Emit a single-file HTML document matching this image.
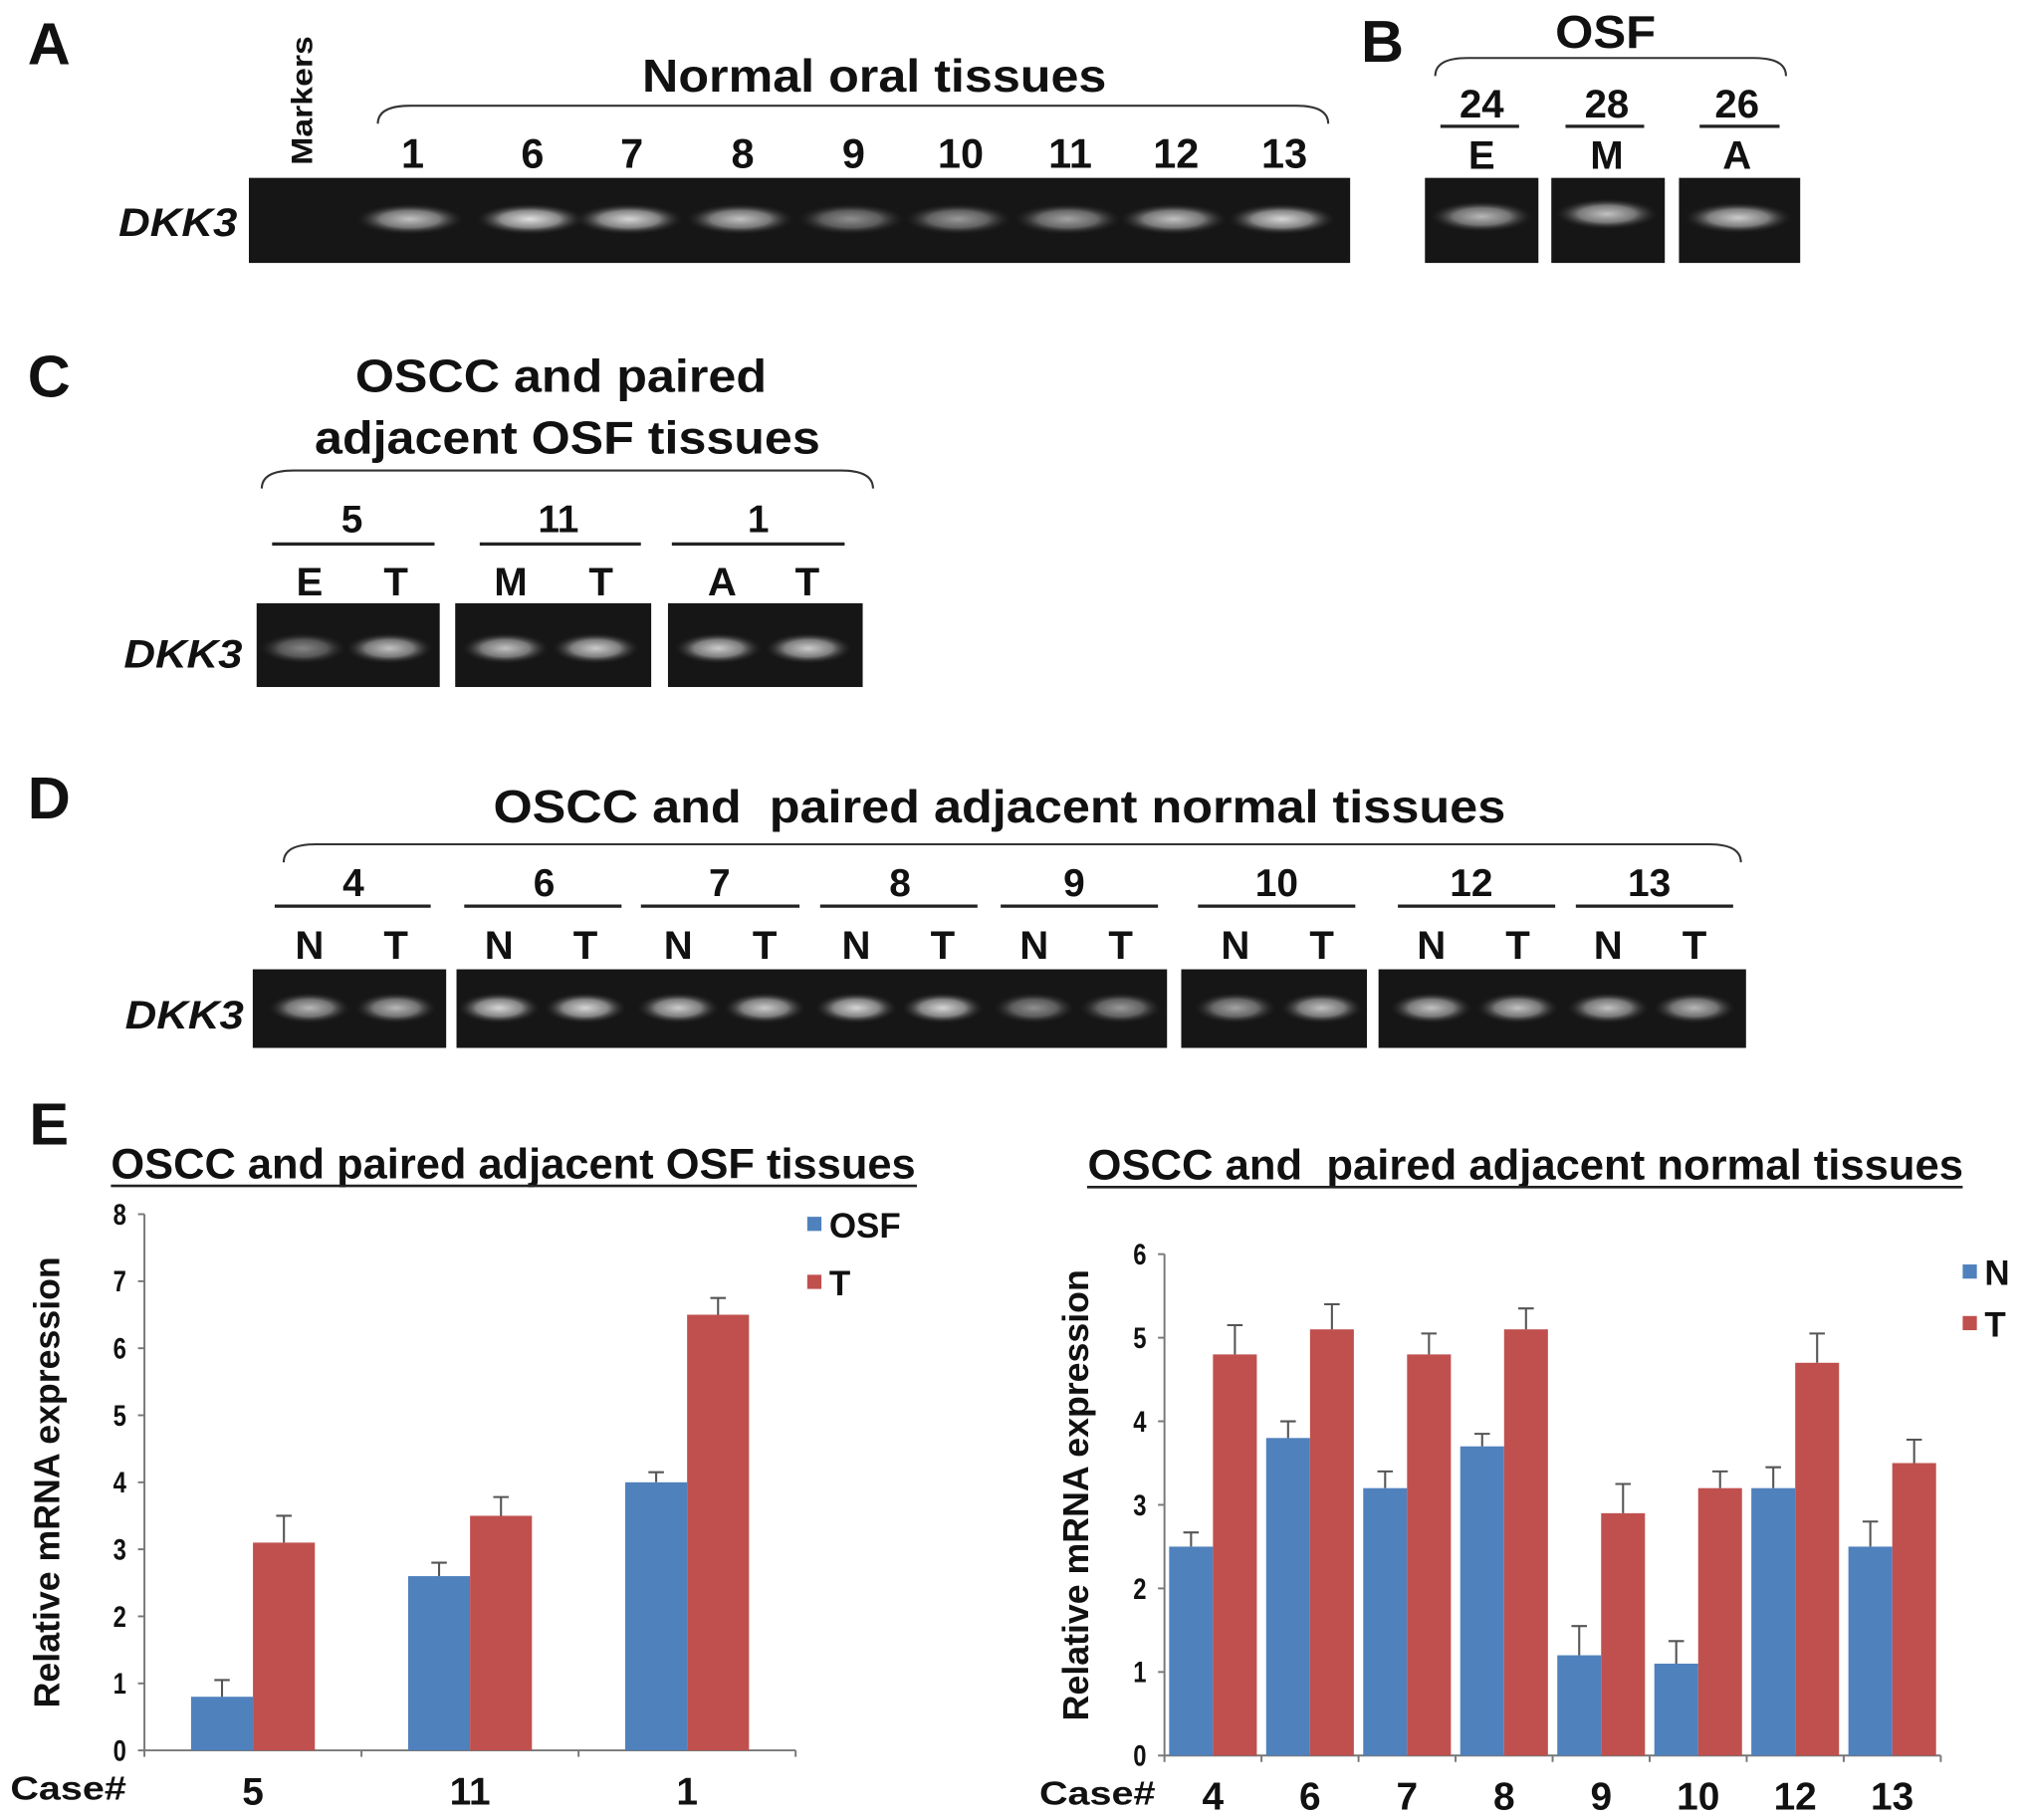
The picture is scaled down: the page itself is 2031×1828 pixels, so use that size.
<!DOCTYPE html>
<html><head><meta charset="utf-8"><style>
html,body{margin:0;padding:0;background:#fff;}
svg{display:block;}
text{font-family:"Liberation Sans",Arial,sans-serif;font-weight:bold;fill:#111;white-space:pre;}
</style></head><body>
<svg id="fig" width="2031" height="1828" viewBox="0 0 1568 1412" preserveAspectRatio="none" xmlns="http://www.w3.org/2000/svg">
<defs>
<radialGradient id="band" cx="50%" cy="50%" r="50%"><stop offset="0" stop-color="#e0e0e0"/><stop offset="0.55" stop-color="#8a8a8a"/><stop offset="1" stop-color="#222" stop-opacity="0"/></radialGradient>
</defs>
<g id="static"></g>
<g id="chartL"></g>
<g id="chartR"></g>
</svg>
<script>
// ---- chart data ----
const leftCategories = ["5","11","1"];
const leftOSF = [0.8, 2.6, 4.0];
const leftT = [3.1, 3.5, 6.5];
const leftOSFErr = [0.25, 0.2, 0.15];
const leftTErr = [0.4, 0.28, 0.25];
const leftTicks = [0,1,2,3,4,5,6,7,8];
const rightCategories = ["4","6","7","8","9","10","12","13"];
const rightN = [2.5, 3.8, 3.2, 3.7, 1.2, 1.1, 3.2, 2.5];
const rightT = [4.8, 5.1, 4.8, 5.1, 2.9, 3.2, 4.7, 3.5];
const rightNErr = [0.17, 0.2, 0.2, 0.15, 0.35, 0.27, 0.25, 0.3];
const rightTErr = [0.35, 0.3, 0.25, 0.25, 0.35, 0.2, 0.35, 0.28];
const rightTicks = [0,1,2,3,4,5,6];

const NS = "http://www.w3.org/2000/svg";
function mk(parent, tag, attrs, txt){
  const e = document.createElementNS(NS, tag);
  for (const k in attrs) e.setAttribute(k, attrs[k]);
  if (txt !== undefined) e.textContent = txt;
  parent.appendChild(e);
  return e;
}
const S = document.getElementById('static');

function label(x,y,t,size,name,extra,len){
  const a = Object.assign({x:x,y:y,'font-size':size,'text-anchor':'middle'},extra||{});
  if (len) { a.textLength = len; a.lengthAdjust = 'spacingAndGlyphs'; }
  const e = mk(S,'text',a,t);
  
  
  return e;
}
function line(x1,y1,x2,y2,w,name){
  const e = mk(S,'line',{x1:x1,y1:y1,x2:x2,y2:y2,stroke:'#222','stroke-width':w||2});
  
  
}
function brace(x1,x2,y,name){
  const e = mk(S,'path',{d:`M${x1},${y+14} Q${x1},${y} ${x1+25},${y} L${x2-25},${y} Q${x2},${y} ${x2},${y+14}`,fill:'none',stroke:'#333','stroke-width':1.6});
  
  
}
function gel(x1,x2,y1,y2,name){
  const e = mk(S,'rect',{x:x1,y:y1,width:x2-x1,height:y2-y1,fill:'#161616'});
  
  
}
function bandAt(cx,cy,w,op){
  const e = mk(S,'ellipse',{cx:cx,cy:cy,rx:w/2,ry:12,fill:'url(#band)',opacity:op});
  
  
}

// Panel letters
[["A",38,50],["B",1072,48],["C",38,308],["D",38,635],["E",38,888]].forEach(p=>label(p[1],p[2],p[0],46,'panel-label-'+p[0].toLowerCase()));

// Panel A
label(678,71,"Normal oral tissues",36,'panel-a-title',null,360);
brace(293,1030,82,'panel-a-brace');
const aLanes=[[320,"1"],[413,"6"],[490,"7"],[576,"8"],[662,"9"],[745,"10"],[830,"11"],[912,"12"],[996,"13"]];
aLanes.forEach(l=>label(l[0],130,l[1],32,'lane-number'));
label(242,78,"Markers",23,'markers-label',{transform:'rotate(-90 242 78)','font-weight':'normal'},100);
gel(193,1047,138,204,'panel-a-gel');
const aOp=[0.85,1,0.95,0.85,0.6,0.65,0.7,0.85,0.95];
aLanes.forEach((l,i)=>bandAt(l[0]-2,170,84,aOp[i]));
label(138,183,"DKK3",31,'gene-label-a',{'font-style':'italic'},92);

// Panel B
label(1245,37,"OSF",36,'panel-b-title',null,78);
brace(1113,1385,45,'panel-b-brace');
[[1149,"24","E",1117,1178],[1246,"28","M",1214,1275],[1347,"26","A",1318,1380]].forEach(b=>{
  label(b[0],91,b[1],31,'case-number');
  line(b[3],98,b[4],98,2.5,'case-underline');
  label(b[0],131,b[2],31,'stage-label');
});
gel(1105,1193,138,204,'gel-b1');gel(1203,1291,138,204,'gel-b2');gel(1302,1396,138,204,'gel-b3');
bandAt(1149,168,80,0.8);bandAt(1246,166,80,0.85);bandAt(1348,169,84,0.9);

// Panel C
label(435,304,"OSCC and paired",36,'panel-c-title-1',null,319);
label(440,352,"adjacent OSF tissues",36,'panel-c-title-2',null,392);
brace(203,677,365,'panel-c-brace');
[[273,"5",211,337],[433,"11",372,497],[588,"1",521,655]].forEach(c=>{
  label(c[0],413,c[1],30,'case-number');
  line(c[2],422,c[3],422,2.5,'case-underline');
});
[[240,"E"],[307,"T"],[396,"M"],[466,"T"],[560,"A"],[626,"T"]].forEach(c=>label(c[0],462,c[1],31,'sample-label'));
gel(199,341,468,533,'gel-c1');gel(353,505,468,533,'gel-c2');gel(518,669,468,533,'gel-c3');
[[235,0.55],[302,0.85],[392,0.85],[462,0.9],[557,0.9],[627,0.9]].forEach(b=>bandAt(b[0],503,68,b[1]));
label(142,518,"DKK3",31,'gene-label-c',{'font-style':'italic'},92);

// Panel D
label(775,638,"OSCC and  paired adjacent normal tissues",36,'panel-d-title',null,785);
brace(220,1350,655,'panel-d-brace');
const dCases=[[274,"4",213,334,240,307],[422,"6",360,482,387,454],[558,"7",497,620,526,593],[698,"8",636,758,664,731],[833,"9",776,898,802,869],[990,"10",929,1051,958,1025],[1141,"12",1084,1206,1110,1177],[1279,"13",1222,1344,1247,1314]];
dCases.forEach(c=>{
  label(c[0],695,c[1],30,'case-number');
  line(c[2],703,c[3],703,2.5,'case-underline');
  label(c[4],744,"N",31,'sample-label');
  label(c[5],744,"T",31,'sample-label');
});
gel(196,346,752,813,'gel-d1');gel(354,905,752,813,'gel-d2');gel(916,1060,752,813,'gel-d3');gel(1069,1354,752,813,'gel-d4');
const dOp=[[0.8,0.8],[0.95,0.95],[0.9,0.9],[0.95,0.95],[0.6,0.65],[0.7,0.85],[0.85,0.85],[0.85,0.8]];
dCases.forEach((c,i)=>{bandAt(c[4],782,64,dOp[i][0]);bandAt(c[5],782,64,dOp[i][1]);});
label(143,798,"DKK3",31,'gene-label-d',{'font-style':'italic'},92);

// ---- Charts ----
function drawChart(gid, o){
  const G = document.getElementById(gid);
  const y = v => o.y0 - (v/o.ymax)*(o.y0-o.ytop);
  const n = o.cats.length;
  const cw = (o.x1-o.x0)/n;
  const cx = i => o.x0 + cw*(i+0.5);
  let t = mk(G,'text',{x:o.titleX,y:o.titleY,'font-size':33,'text-anchor':'middle',textLength:o.titleLen,lengthAdjust:'spacingAndGlyphs'},o.title);
  
  
  let u = mk(G,'line',{x1:o.ulx0,y1:o.titleY+6,x2:o.ulx1,y2:o.titleY+6,stroke:'#222','stroke-width':2});
  
  
  let ya = mk(G,'line',{x1:o.x0,y1:o.ytop,x2:o.x0,y2:o.y0,stroke:'#777','stroke-width':1.5});
  
  
  let xa = mk(G,'line',{x1:o.x0,y1:o.y0,x2:o.x1,y2:o.y0,stroke:'#777','stroke-width':1.5});
  
  
  o.ticks.forEach(v=>{
    let tk = mk(G,'line',{x1:o.x0-5,y1:y(v),x2:o.x0,y2:y(v),stroke:'#777','stroke-width':1.5});
    
    
    let tl = mk(G,'text',{x:o.x0-14,y:y(v)+8,'font-size':23,'text-anchor':'end',transform:`translate(${o.x0-14},0) scale(0.8,1) translate(${-(o.x0-14)},0)`},String(v));
    
    
  });
  for(let i=0;i<=n;i++){
    let tk = mk(G,'line',{x1:o.x0+cw*i,y1:o.y0,x2:o.x0+cw*i,y2:o.y0+5,stroke:'#777','stroke-width':1.5});
    
    
  }
  o.cats.forEach((c,i)=>{
    let xl = mk(G,'text',{x:cx(i),y:o.y0+42,'font-size':30,'text-anchor':'middle'},c);
    
    
  });
  let cl = mk(G,'text',{x:o.caseX,y:o.y0+38,'font-size':26,'text-anchor':'start',textLength:90,lengthAdjust:'spacingAndGlyphs'},"Case#");
  
  
  const ym = o.ylabY;
  let yl = mk(G,'text',{x:o.ylabX,y:ym,'font-size':28,'text-anchor':'middle',textLength:350,lengthAdjust:'spacingAndGlyphs',transform:`rotate(-90 ${o.ylabX} ${ym})`},"Relative mRNA expression");
  
  
  const series=[[o.a,o.aErr,'#4f81bd',-1],[o.b,o.bErr,'#c0504d',0]];
  series.forEach((s,si)=>{
    s[0].forEach((v,i)=>{
      const bx = cx(i) + s[3]*o.bw;
      const r = mk(G,'rect',{x:bx,y:y(v),width:o.bw,height:o.y0-y(v),fill:s[2]});
      
      
      const ex = bx + o.bw/2, ey = y(v+s[1][i]);
      const e = mk(G,'path',{d:`M${ex},${y(v)} L${ex},${ey} M${ex-6},${ey} L${ex+6},${ey}`,stroke:'#555','stroke-width':1.6,fill:'none'});
      
      
    });
  });
  [[o.aName,'#4f81bd',o.legY1],['T','#c0504d',o.legY2]].forEach(l=>{
    const r = mk(G,'rect',{x:o.legX,y:l[2]-6,width:11,height:11,fill:l[1]});
    
    
    const tx = mk(G,'text',{x:o.legX+17,y:l[2]+10,'font-size':27},l[0]);
    
    
  });
}
drawChart('chartL',{cats:leftCategories,a:leftOSF,b:leftT,aErr:leftOSFErr,bErr:leftTErr,ticks:leftTicks,ymax:8,
  x0:112,x1:617,y0:1358,ytop:942,bw:48,title:"OSCC and paired adjacent OSF tissues",titleLen:624,titleX:398,titleY:914,ulx0:86,ulx1:711,
  caseX:8,ylabX:46,ylabY:1150,aName:"OSF",legX:626,legY1:950,legY2:995});
drawChart('chartR',{cats:rightCategories,a:rightN,b:rightT,aErr:rightNErr,bErr:rightTErr,ticks:rightTicks,ymax:6,
  x0:903,x1:1505,y0:1362,ytop:973,bw:34,title:"OSCC and  paired adjacent normal tissues",titleLen:679,titleX:1183,titleY:915,ulx0:843,ulx1:1522,
  caseX:806,ylabX:844,ylabY:1160,aName:"N",legX:1522,legY1:987,legY2:1027});
</script>
</body></html>
